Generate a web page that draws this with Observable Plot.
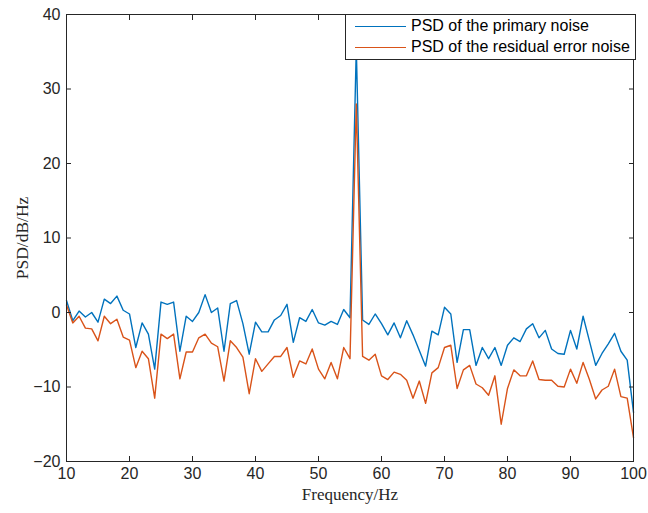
<!DOCTYPE html>
<html>
<head>
<meta charset="utf-8">
<script src="https://cdn.jsdelivr.net/npm/d3@7"></script>
<script src="https://cdn.jsdelivr.net/npm/@observablehq/plot@0.6"></script>
<style>
  body { margin: 0; background: #fff; }
  #wrap { position: relative; width: 648px; height: 513px; }
  .legend { position: absolute; left: 345px; top: 14px; width: 291px; height: 46px;
    border: 1px solid #262626; background: #fff; box-sizing: border-box;
    font-family: "Liberation Sans", Arial, sans-serif; font-size: 16px; color: #000; line-height: 18px; }
  .legend .row { position: absolute; left: 9px; display: flex; align-items: center; white-space: nowrap; }
  .legend .sw { width: 51px; height: 0; border-top: 1.3px solid; margin-right: 5px; }
</style>
</head>
<body>
<div id="wrap"></div>
<script>
const freq = [10,11,12,13,14,15,16,17,18,19,20,21,22,23,24,25,26,27,28,29,30,31,32,33,34,35,36,37,38,39,40,
  41,42,43,44,45,46,47,48,49,50,51,52,53,54,55,56,57,58,59,60,61,62,63,64,65,66,67,68,69,70,
  71,72,73,74,75,76,77,78,79,80,81,82,83,84,85,86,87,88,89,90,91,92,93,94,95,96,97,98,99,100];
const primary = [1.6,-1.1,0.2,-0.6,0.0,-1.3,1.8,1.2,2.2,0.3,-0.2,-4.7,-1.4,-2.9,-7.6,1.4,1.1,1.4,-5.2,-0.5,-1.2,
  0.0,2.4,0.0,0.6,-5.2,1.2,1.6,-1.5,-5.6,-1.3,-2.6,-2.6,-1.0,-0.4,1.1,-4.0,-0.7,-1.2,0.4,-1.4,
  -1.7,-1.2,-1.6,0.4,-0.7,35.5,-1.0,-1.6,-0.2,-1.5,-3.0,-1.4,-3.4,-1.1,-3.0,-5.1,-7.2,-2.5,-3.0,0.7,
  -0.2,-6.7,-2.3,-2.3,-7.1,-4.7,-6.2,-4.7,-7.1,-4.4,-3.4,-3.9,-2.2,-1.5,-3.4,-2.4,-4.9,-5.5,-5.6,-2.4,
  -4.9,-0.5,-3.8,-7.1,-5.5,-4.2,-2.8,-5.2,-6.4,-13.4];
const residual = [1.0,-1.4,-0.5,-2.1,-2.2,-3.8,-0.5,-1.5,-0.9,-3.3,-3.7,-7.4,-5.2,-6.2,-11.5,-2.9,-3.5,-2.9,-8.9,-5.3,-5.3,
  -3.4,-2.9,-4.1,-4.6,-9.2,-3.8,-4.7,-6.0,-10.9,-6.2,-7.9,-6.9,-5.9,-5.9,-4.7,-8.7,-6.5,-6.9,-4.9,-7.6,
  -8.9,-6.7,-8.9,-4.7,-6.2,28.0,-5.9,-6.4,-5.6,-8.5,-9.0,-8.0,-8.3,-9.1,-11.5,-9.2,-12.2,-8.1,-7.4,-4.7,
  -4.4,-10.2,-7.7,-7.1,-9.6,-10.1,-11.1,-8.5,-15.0,-10.2,-7.7,-8.5,-8.5,-6.5,-9.0,-9.1,-9.1,-9.9,-10.0,-7.6,
  -9.5,-6.7,-9.0,-11.6,-10.4,-9.9,-7.6,-11.3,-11.5,-16.8];
const xTicks = [10,20,30,40,50,60,70,80,90,100];
const yTicks = [-20,-10,0,10,20,30,40];
const seriesNames = ["PSD of the primary noise", "PSD of the residual error noise"];
const colors = ["#0072BD", "#D95319"];
const xLabel = "Frequency/Hz";
const yLabel = "PSD/dB/Hz";

const data = freq.map((f, i) => ({f, primary: primary[i], residual: residual[i]}));
const ink = "#262626";
const serif = "'Liberation Serif', 'Times New Roman', serif";

const chart = Plot.plot({
  width: 648, height: 513,
  marginLeft: 66, marginRight: 15, marginTop: 14, marginBottom: 52,
  x: {domain: [10, 100]},
  y: {domain: [-20, 40]},
  style: {fontFamily: "'Liberation Sans', Arial, sans-serif", fontSize: "16px", color: ink, background: "#fff"},
  marks: [
    Plot.line(data, {x: "f", y: "primary", stroke: colors[0], strokeWidth: 1.4}),
    Plot.line(data, {x: "f", y: "residual", stroke: colors[1], strokeWidth: 1.4}),
    Plot.frame({stroke: ink, strokeWidth: 1}),
    Plot.axisX(xTicks, {anchor: "bottom", tickSize: -5, tickPadding: 11, stroke: ink, fill: ink, label: null}),
    Plot.axisX(xTicks, {anchor: "top", tickSize: -5, tickFormat: () => "", stroke: ink, label: null}),
    Plot.axisY(yTicks, {anchor: "left", tickSize: -5, tickPadding: 11, stroke: ink, fill: ink, label: null}),
    Plot.axisY(yTicks, {anchor: "right", tickSize: -5, tickFormat: () => "", stroke: ink, label: null}),
    Plot.text([xLabel], {text: d => d, frameAnchor: "bottom", textAnchor: "middle", dy: 38, fontFamily: serif, fontSize: 17, fill: ink}),
    Plot.text([yLabel], {text: d => d, frameAnchor: "left", textAnchor: "middle", rotate: -90, dx: -44, fontFamily: serif, fontSize: 17.5, fill: ink})
  ]
});

const wrap = document.getElementById("wrap");
wrap.appendChild(chart);
const legend = document.createElement("div");
legend.className = "legend";
seriesNames.forEach((name, i) => {
  const row = document.createElement("div");
  row.className = "row";
  row.style.top = (i === 0 ? 2 : 23) + "px";
  const sw = document.createElement("span");
  sw.className = "sw";
  sw.style.borderTopColor = colors[i];
  const t = document.createElement("span");
  t.textContent = name;
  row.appendChild(sw); row.appendChild(t);
  legend.appendChild(row);
});
wrap.appendChild(legend);
</script>
</body>
</html>
